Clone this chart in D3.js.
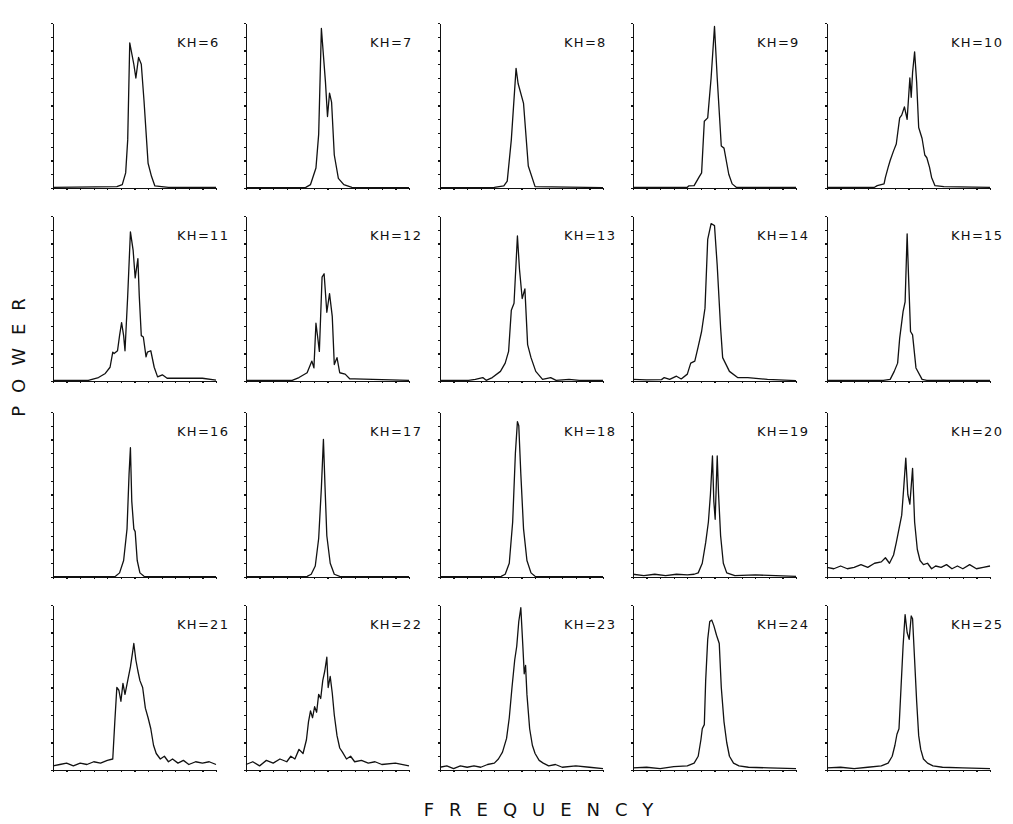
<!DOCTYPE html>
<html>
<head>
<meta charset="utf-8">
<script src="https://cdn.jsdelivr.net/npm/d3@7"></script>
<style>
    body { margin: 0; background: #fff; }
    svg { display: block; }
    .axis path, .axis line { stroke: #111; stroke-width: 1.2; shape-rendering: crispEdges; }
    .spec { fill: none; stroke: #111; stroke-width: 1.3; stroke-linejoin: round; }
    .kh { font-family: "DejaVu Sans", sans-serif; font-size: 13px; fill: #111; }
    .title { font-family: "DejaVu Sans", sans-serif; font-size: 18px; fill: #111; }
</style>
</head>
<body>
<script>
(function() {

    // panel labels, read left to right, top to bottom
    var khValues = [6, 7, 8, 9, 10, 11, 12, 13, 14, 15, 16, 17, 18, 19, 20, 21, 22, 23, 24, 25];

    // spectra: [frequency tick units, power tick units]
    var kh6 = [[0,0.05],[4.7,0.1],[5.1,0.25],[5.35,1.1],[5.5,3.5],[5.65,10.55],[5.95,9.0],[6.1,8.0],[6.3,9.5],[6.5,9.0],[6.7,6.35],[7.0,1.8],[7.25,0.85],[7.5,0.15],[8.5,0.05],[12,0.05]];
    var kh7 = [[0,0.03],[4.4,0.05],[4.75,0.25],[5.15,1.45],[5.35,3.9],[5.55,11.6],[5.85,7.7],[6.0,5.2],[6.15,6.9],[6.3,6.25],[6.5,2.4],[6.8,0.7],[7.2,0.25],[7.8,0.05],[12,0.03]];
    var kh8 = [[0,0.03],[4.0,0.05],[4.7,0.15],[4.95,0.5],[5.25,3.5],[5.6,8.7],[5.75,7.6],[6.15,6.15],[6.5,1.6],[7.0,0.1],[12,0.03]];
    var kh9 = [[0,0.05],[4.0,0.05],[4.1,0.15],[4.5,0.17],[4.85,0.77],[5.05,1.1],[5.25,4.85],[5.5,5.1],[5.75,8.0],[6.0,11.75],[6.2,8.0],[6.5,3.05],[6.7,2.9],[7.05,1.0],[7.3,0.3],[7.6,0.05],[12,0.05]];
    var kh10 = [[0,0.05],[3.5,0.05],[3.7,0.17],[4.2,0.3],[4.3,0.77],[4.5,1.5],[4.65,2.0],[4.9,2.7],[5.1,3.2],[5.35,5.1],[5.5,5.3],[5.7,5.9],[5.9,5.0],[6.1,8.0],[6.2,6.6],[6.3,8.4],[6.45,9.9],[6.6,7.7],[6.75,4.4],[7.0,3.6],[7.2,2.4],[7.35,2.2],[7.55,1.5],[7.7,0.77],[7.95,0.17],[8.6,0.1],[12,0.05]];
    var kh11 = [[0,0.05],[2.6,0.05],[3.35,0.25],[3.85,0.55],[4.2,1.0],[4.4,2.1],[4.5,2.0],[4.75,2.2],[4.9,3.3],[5.05,4.25],[5.2,3.3],[5.3,2.2],[5.5,6.2],[5.7,10.85],[5.9,9.5],[6.05,7.5],[6.25,8.9],[6.35,6.2],[6.5,3.3],[6.65,3.2],[6.85,1.75],[6.95,2.1],[7.2,2.2],[7.45,1.0],[7.7,0.3],[8.05,0.45],[8.4,0.2],[11.0,0.2],[12,0.07]];
    var kh12 = [[0,0.05],[3.4,0.05],[3.9,0.25],[4.5,0.6],[4.85,1.45],[5.0,0.95],[5.15,4.2],[5.3,3.0],[5.4,2.15],[5.6,7.55],[5.75,7.8],[5.95,5.0],[6.15,6.35],[6.35,4.7],[6.5,1.2],[6.7,1.7],[6.9,0.6],[7.3,0.5],[7.65,0.15],[8.0,0.15],[12,0.05]];
    var kh13 = [[0,0.05],[2.1,0.05],[2.6,0.12],[3.15,0.25],[3.4,0.05],[3.85,0.25],[4.45,0.7],[4.8,1.3],[5.05,2.15],[5.25,5.15],[5.45,5.65],[5.7,10.55],[5.85,8.15],[6.05,6.0],[6.25,6.7],[6.45,2.65],[6.7,1.7],[7.05,0.7],[7.55,0.12],[8.15,0.25],[8.55,0.05],[9.5,0.12],[10.25,0.05],[12,0.05]];
    var kh14 = [[0,0.12],[1.0,0.08],[2.1,0.1],[2.3,0.25],[2.7,0.12],[3.2,0.35],[3.55,0.15],[4.0,0.5],[4.25,1.3],[4.55,1.45],[4.8,2.5],[5.05,3.6],[5.3,5.3],[5.5,10.3],[5.75,11.45],[6.0,11.3],[6.2,8.4],[6.45,3.85],[6.6,1.7],[7.1,0.7],[7.7,0.25],[8.45,0.25],[9.9,0.12],[12,0.02]];
    var kh15 = [[0,0.05],[4.15,0.05],[4.65,0.12],[4.95,0.7],[5.2,1.3],[5.35,3.1],[5.6,5.05],[5.75,5.75],[5.9,10.7],[6.0,7.7],[6.15,3.6],[6.3,3.35],[6.55,0.95],[7.0,0.12],[7.35,0.05],[12,0.05]];
    var kh16 = [[0,0.03],[4.6,0.05],[4.9,0.3],[5.2,1.2],[5.45,3.5],[5.6,7.5],[5.7,9.4],[5.8,5.5],[5.95,3.5],[6.05,3.3],[6.2,1.2],[6.4,0.3],[6.7,0.05],[12,0.03]];
    var kh17 = [[0,0.03],[4.5,0.05],[4.8,0.2],[5.1,0.8],[5.35,2.8],[5.55,6.5],[5.7,10.0],[5.82,6.5],[5.95,3.0],[6.2,1.0],[6.5,0.2],[6.9,0.05],[12,0.03]];
    var kh18 = [[0,0.03],[4.5,0.05],[4.8,0.2],[5.1,1.0],[5.35,4.0],[5.55,9.0],[5.7,11.3],[5.8,11.0],[5.95,7.5],[6.15,3.5],[6.4,1.2],[6.7,0.3],[7.0,0.05],[12,0.03]];
    var kh19 = [[0,0.2],[0.8,0.1],[1.6,0.2],[2.4,0.1],[3.2,0.2],[4.0,0.15],[4.5,0.2],[4.8,0.3],[5.1,1.0],[5.35,2.5],[5.55,4.0],[5.7,6.0],[5.85,8.8],[5.95,5.5],[6.05,4.2],[6.2,8.8],[6.3,6.0],[6.45,3.0],[6.65,1.0],[6.9,0.3],[7.5,0.1],[9.0,0.15],[12,0.05]];
    var kh20 = [[0,0.7],[0.5,0.6],[1.0,0.8],[1.5,0.6],[2.0,0.7],[2.5,0.9],[3.0,0.7],[3.5,1.0],[4.0,1.1],[4.3,1.4],[4.6,1.0],[4.9,1.6],[5.1,2.5],[5.3,3.5],[5.5,4.5],[5.65,6.5],[5.8,8.65],[5.95,6.0],[6.1,5.3],[6.3,7.9],[6.45,4.0],[6.65,2.0],[6.85,1.2],[7.1,0.9],[7.4,1.0],[7.7,0.6],[8.0,0.8],[8.4,0.7],[8.8,0.9],[9.2,0.6],[9.6,0.8],[10.0,0.6],[10.5,0.9],[11.0,0.6],[11.5,0.7],[12,0.8]];
    var kh21 = [[0,0.3],[0.5,0.4],[1.0,0.5],[1.5,0.3],[2.0,0.5],[2.5,0.4],[3.0,0.6],[3.5,0.5],[4.0,0.7],[4.4,0.8],[4.55,3.5],[4.7,6.0],[4.85,5.8],[5.0,5.0],[5.15,6.3],[5.3,5.5],[5.5,6.5],[5.7,7.5],[5.85,8.5],[5.95,9.2],[6.1,8.0],[6.25,7.2],[6.4,6.5],[6.6,6.0],[6.8,4.5],[7.0,3.8],[7.2,3.0],[7.4,1.8],[7.6,1.2],[7.9,0.8],[8.2,1.0],[8.5,0.6],[8.8,0.8],[9.2,0.5],[9.6,0.7],[10.0,0.4],[10.5,0.6],[11.0,0.5],[11.5,0.6],[12,0.4]];
    var kh22 = [[0,0.4],[0.5,0.6],[1.0,0.3],[1.5,0.7],[2.0,0.5],[2.5,0.8],[3.0,0.6],[3.3,1.0],[3.6,0.8],[3.9,1.5],[4.2,1.2],[4.45,2.2],[4.6,3.5],[4.75,4.3],[4.9,3.8],[5.05,4.6],[5.2,4.2],[5.35,5.5],[5.5,5.2],[5.65,6.5],[5.8,7.2],[5.95,8.2],[6.05,6.0],[6.2,6.8],[6.35,5.6],[6.5,4.0],[6.7,2.5],[6.9,1.6],[7.1,1.3],[7.4,0.8],[7.7,1.0],[8.0,0.6],[8.5,0.7],[9.0,0.5],[9.5,0.6],[10.0,0.4],[11.0,0.5],[12,0.3]];
    var kh23 = [[0,0.2],[0.5,0.3],[1.0,0.1],[1.5,0.3],[2.0,0.2],[2.5,0.3],[3.0,0.2],[3.5,0.4],[4.0,0.5],[4.3,0.8],[4.6,1.3],[4.9,2.3],[5.1,3.8],[5.3,6.0],[5.5,8.0],[5.65,9.0],[5.8,10.8],[5.95,11.8],[6.1,9.0],[6.2,7.0],[6.3,7.6],[6.4,5.5],[6.6,3.0],[6.8,1.8],[7.0,1.2],[7.3,0.7],[7.6,0.5],[8.0,0.3],[8.5,0.4],[9.0,0.2],[10.0,0.3],[11.0,0.2],[12,0.1]];
    var kh24 = [[0,0.15],[1,0.2],[2,0.1],[3,0.25],[4,0.3],[4.5,0.5],[4.8,1.0],[5.0,2.2],[5.1,3.0],[5.25,3.3],[5.35,6.5],[5.5,9.5],[5.65,10.8],[5.8,10.9],[5.95,10.5],[6.15,9.8],[6.35,9.2],[6.5,6.0],[6.7,3.5],[6.9,2.0],[7.1,1.0],[7.4,0.5],[7.8,0.3],[8.5,0.2],[10,0.15],[12,0.1]];
    var kh25 = [[0,0.15],[1,0.2],[2,0.1],[3,0.2],[4,0.3],[4.5,0.5],[4.8,1.0],[5.0,1.8],[5.15,2.6],[5.3,3.0],[5.45,6.0],[5.6,9.0],[5.75,11.3],[5.9,10.0],[6.05,9.5],[6.2,11.2],[6.3,11.0],[6.45,8.0],[6.6,5.0],[6.75,2.5],[6.9,1.5],[7.1,0.8],[7.4,0.5],[7.8,0.3],[8.5,0.2],[10,0.15],[12,0.1]];

    var spectra = [kh6, kh7, kh8, kh9, kh10, kh11, kh12, kh13, kh14, kh15,
                   kh16, kh17, kh18, kh19, kh20, kh21, kh22, kh23, kh24, kh25];

    var tickValues = d3.range(0, 13);

    var width = 1013,
        height = 824;

    var colX = [53, 246, 440, 633, 827],
        rowBase = [188, 381, 577, 770],
        panelWidth = 163,
        panelHeight = 165;

    var svg = d3.select("body")
        .append("svg")
        .attr("width", width)
        .attr("height", height);

    var xScale = d3.scaleLinear()
        .domain([0, 12])
        .range([0, panelWidth]);

    var yScale = d3.scaleLinear()
        .domain([0, 12])
        .range([0, -panelHeight]);

    var line = d3.line()
        .x(function(d){ return xScale(d[0]); })
        .y(function(d){ return yScale(d[1]); });

    spectra.forEach(function(data, i){
        var col = i % 5,
            row = Math.floor(i / 5);

        var g = svg.append("g")
            .attr("transform", "translate(" + colX[col] + "," + rowBase[row] + ")");

        g.append("g")
            .attr("class", "axis")
            .call(d3.axisBottom(xScale).tickValues(tickValues).tickSize(2).tickSizeOuter(0).tickFormat(""));

        g.append("g")
            .attr("class", "axis")
            .call(d3.axisLeft(yScale).tickValues(tickValues).tickSize(2).tickSizeOuter(0).tickFormat(""));

        g.append("path")
            .datum(data)
            .attr("class", "spec")
            .attr("d", line);

        g.append("text")
            .attr("class", "kh")
            .attr("x", 124)
            .attr("y", -141)
            .attr("letter-spacing", 1.3)
            .text("KH=" + khValues[i]);
    });

    // letter-spacing trails the last glyph, so shift anchors by half of it
    svg.append("text")
        .attr("class", "title")
        .attr("transform", "translate(25,351) rotate(-90)")
        .attr("text-anchor", "middle")
        .attr("letter-spacing", 13)
        .text("POWER");

    svg.append("text")
        .attr("class", "title")
        .attr("x", 546)
        .attr("y", 816)
        .attr("text-anchor", "middle")
        .attr("letter-spacing", 15)
        .text("FREQUENCY");

})();
</script>
</body>
</html>
